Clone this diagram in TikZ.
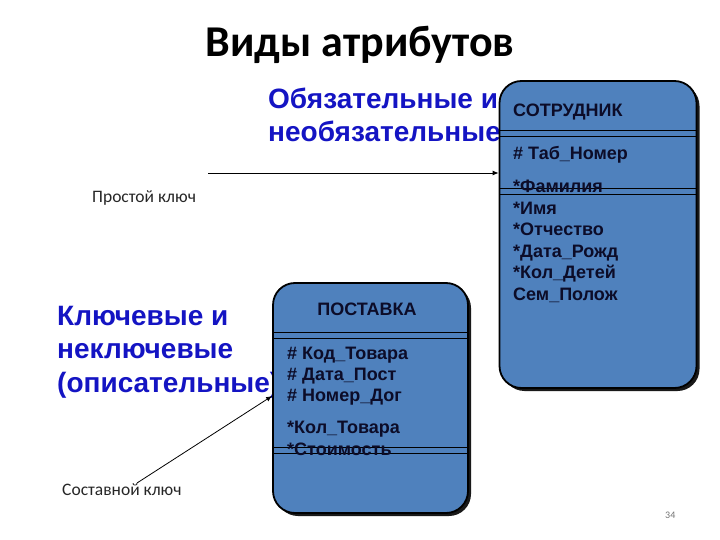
\documentclass[tikz,border=0pt]{standalone}
\usepackage{fontspec}
\setmainfont{Liberation Sans}
\newfontfamily\calibri{Carlito}
\usetikzlibrary{positioning,shadows,arrows.meta}

\definecolor{boxblue}{RGB}{79,129,189}
\definecolor{textblue}{RGB}{20,20,195}
\definecolor{attrdark}{RGB}{12,12,40}

\tikzset{
  entity/.style={draw=black, line width=1.8pt, fill=boxblue, rounded corners=22pt,
    inner sep=0pt, drop shadow={shadow xshift=3pt, shadow yshift=-3pt, fill=black, opacity=0.9}},
  attr/.style={anchor=base west, inner sep=0pt, text=attrdark,
    font=\bfseries\fontsize{18}{20}\selectfont},
  bigblue/.style={anchor=base west, align=left, inner sep=0pt, text=textblue,
    font=\bfseries\fontsize{28}{33.5}\selectfont},
  keylabel/.style={anchor=base west, inner sep=0pt, text=black!85,
    font=\calibri\fontsize{17.5}{20}\selectfont},
}

\begin{document}
\begin{tikzpicture}[x=1pt, y=-1pt]
        \useasboundingbox (0,0) rectangle (720,540);

        % Title
        \node[anchor=base, inner sep=0pt, font=\calibri\bfseries\fontsize{44}{48}\selectfont] (title) at (360,57) {Виды атрибутов};

        % Kinds of attributes (base anchor sits on the last line)
        \node[bigblue] (mandatory) at (268,142) {Обязательные и\\необязательные};
        \node[bigblue] (keyattr) at (57,392) {Ключевые и\\неключевые\\(описательные)};

        % Entities
        \node[entity, minimum width=197pt, minimum height=307pt] (emp) at (598,234.5) {};
        \node[entity, minimum width=195pt, minimum height=230pt] (sup) at (370.5,398) {};

        % Double lines inside the boxes
        \foreach \y in {130,136,188,194} {
            \draw[line width=0.8pt] (499,\y) -- (697,\y);
        }
        \foreach \y in {332,338,447,453} {
            \draw[line width=0.8pt] (273,\y) -- (468,\y);
        }

        % Attributes of СОТРУДНИК
        \node[attr] (empname) at (513,117) {СОТРУДНИК};
        \node[attr] (emppk) at (513,160) {\# Таб\_Номер};
        \foreach \a [count=\i from 0] in {*Фамилия, *Имя, *Отчество, *Дата\_Рожд, *Кол\_Детей, Сем\_Полож} {
            \node[attr] (empattr\i) at (513,193+21.4*\i) {\a};
        }

        % Attributes of ПОСТАВКА
        \node[attr, anchor=base] (supname) at (367,315) {ПОСТАВКА};
        \foreach \a [count=\i from 0] in {\# Код\_Товара, \# Дата\_Пост, \# Номер\_Дог} {
            \node[attr] (suppk\i) at (287,359+21*\i) {\a};
        }
        \node[attr] (supattr0) at (287,433) {*Кол\_Товара};
        \node[attr] (supattr1) at (287,455) {*Стоимость};

        % Key labels and arrows
        \node[keylabel] (simplekey) at (92,203) {Простой ключ};
        \node[keylabel] (compkey) at (62,495) {Составной ключ};
        \coordinate (pkstart) at (208,173);
        \coordinate (ckstart) at (137,483);
        \coordinate (ckend) at (0,396);
        \draw[-{Latex[length=6pt,width=5pt]}, line width=0.8pt] (pkstart) -- (emp.west |- pkstart);
        \draw[-{Latex[length=6pt,width=5pt]}, line width=0.8pt] (ckstart) -- (sup.west |- ckend);

        % Page number
        \node[anchor=base west, inner sep=0pt, text=black!55, font=\calibri\fontsize{10}{12}\selectfont] (pagenum) at (665,518) {34};
\end{tikzpicture}
\end{document}
